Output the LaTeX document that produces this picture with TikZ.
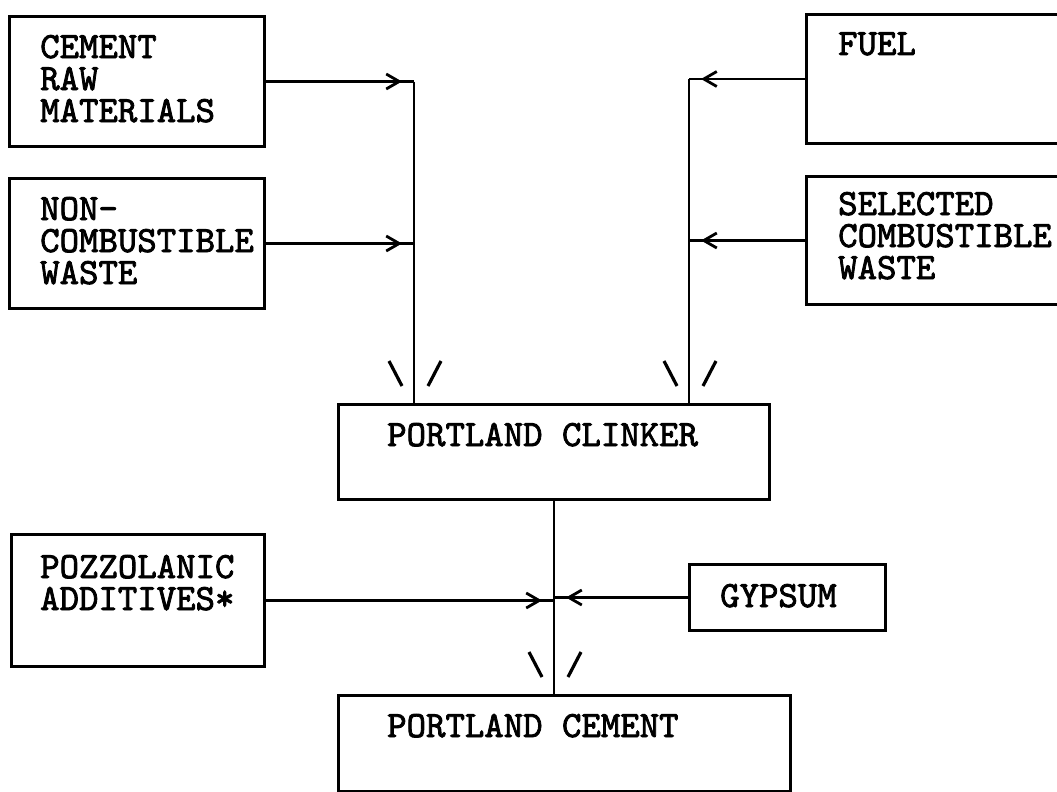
\documentclass[tikz,border=0pt]{standalone}
\usepackage{fontspec}
\newfontfamily\typer{lmmono10-regular.otf}[FakeBold=2.2]
\usetikzlibrary{arrows.meta,decorations.markings}

% two open strokes above a box, one each side of the incoming line
\newcommand\splay[1]{%
  \draw[tick] ([shift={(-25,-42)}]#1) -- ([shift={(-12,-17)}]#1);
  \draw[tick] ([shift={(27,-42)}]#1) -- ([shift={(14,-17)}]#1);}

\begin{document}
\begin{tikzpicture}[x=1pt, y=-1pt,
      box/.style={draw, line width=3pt, inner sep=0pt, anchor=north west},
      txt/.style={anchor=base west, align=left, inner sep=0pt,
        font=\fontsize{37}{32}\typer},
      line/.style={line width=2.8pt},
      tick/.style={line width=3.2pt},
      feed/.style={line, postaction={decorate}, decoration={markings,
        mark=at position -12pt with {\arrow{Straight Barb[length=13pt,width=15pt]}}}}]
    \useasboundingbox (0,0) rectangle (1057,792);
    \clip (0,0) rectangle (1057,792);
    % boxes
    \node[box, minimum width=255pt, minimum height=130pt] (raw)     at (8,15)   {};
    \node[box, minimum width=255pt, minimum height=130pt] (noncomb) at (8,177)  {};
    \node[box, minimum width=265pt, minimum height=129pt] (fuel)    at (805,13) {};
    \node[box, minimum width=265pt, minimum height=128pt] (selcomb) at (805,175) {};
    \node[box, minimum width=431pt, minimum height=95pt]  (clinker) at (337,403) {};
    \node[box, minimum width=253pt, minimum height=132pt] (pozz)    at (10,533) {};
    \node[box, minimum width=196pt, minimum height=66pt]  (gypsum)  at (688,563) {};
    \node[box, minimum width=452pt, minimum height=96pt]  (cement)  at (337,694) {};
    % texts (anchored on the last line)
    \node[txt] (rawtxt)     at (40,122)  {CEMENT\\RAW\\MATERIALS};
    \node[txt] (noncombtxt) at (40,284)  {NON-\\COMBUSTIBLE\\WASTE};
    \node[txt] (fueltxt)    at (838,55)  {FUEL};
    \node[txt] (selcombtxt) at (838,279) {SELECTED\\COMBUSTIBLE\\WASTE};
    \node[txt] (clinkertxt) at (387,446) {PORTLAND CLINKER};
    \node[txt] (pozztxt)    at (40,610)  {POZZOLANIC\\ADDITIVES*};
    \node[txt] (gypsumtxt)  at (720,607) {GYPSUM};
    \node[txt] (cementtxt)  at (387,737) {PORTLAND CEMENT};
    % inlets on the clinker box
    \coordinate (inL) at (414,403);
    \coordinate (inR) at (689,403);
    \coordinate (inC) at (clinker.south |- cement.north);
    % feeds into the kiln
    \draw[feed] (raw.east) -- (raw.east -| inL);
    \draw[feed] (noncomb.east) -- (noncomb.east -| inL);
    \draw[line] (raw.east -| inL) -- (inL);
    \draw[feed] (fuel.west) -- (fuel.west -| inR);
    \draw[feed] (selcomb.west) -- (selcomb.west -| inR);
    \draw[line] (fuel.west -| inR) -- (inR);
    \splay{inL}
    \splay{inR}
    % grinding
    \draw[line] (clinker.south) -- (inC);
    \draw[feed] (pozz.east) -- (pozz.east -| inC);
    \draw[feed] (gypsum.west) -- (gypsum.west -| inC);
    \splay{inC}
  \end{tikzpicture}
\end{document}
